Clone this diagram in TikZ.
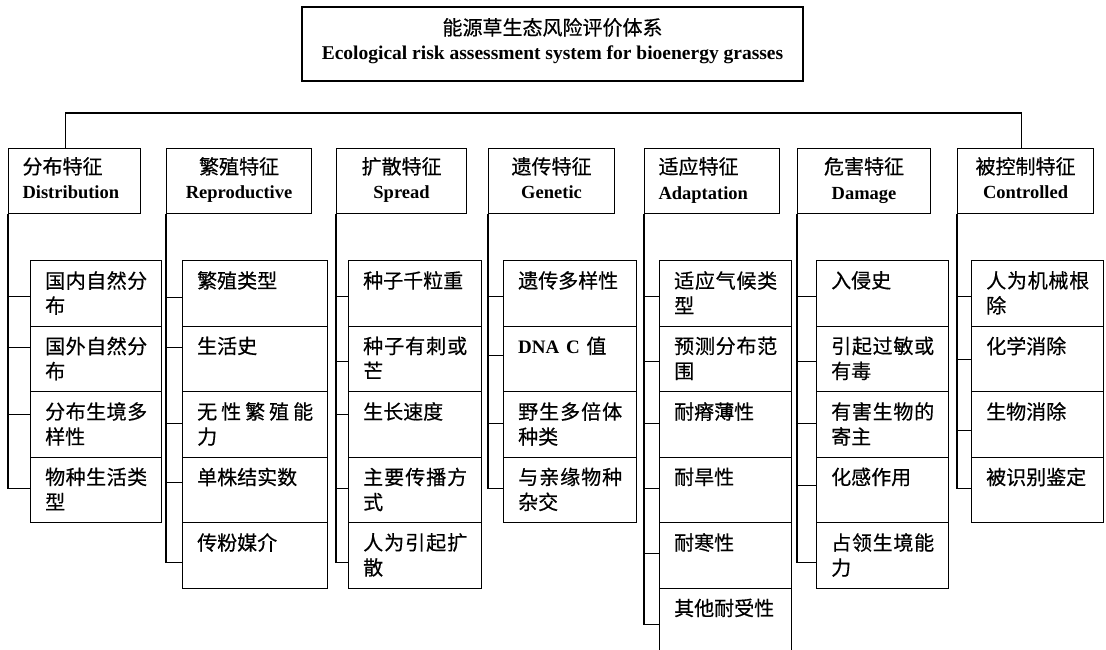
\documentclass[tikz,border=0pt]{standalone}
\usepackage{fontspec}
\setmainfont{Liberation Serif}
\newfontfamily\cjk[FakeBold=0.5]{Noto Sans CJK SC}
\setlength\parindent{0pt}
\newcommand\zh[1]{{\cjk\fontsize{20}{25}\selectfont #1}}
\newcommand\J[1]{\leavevmode\hbox to\hsize{\Jloop#1\Jend}}
\def\Jloop#1#2\Jend{#1\if\relax\detokenize{#2}\relax\else\hfil\Jloop#2\Jend\fi}
\tikzset{
  box/.style={draw, line width=1.1pt, inner sep=0pt},
  catbox/.style={box, minimum height=65pt, inner xsep=14pt, inner ysep=0pt, text depth=31pt, font=\fontsize{18.5}{25}\selectfont, anchor=north west},
  subbox/.style={box, minimum height=65.5pt, anchor=north west},
  subtext/.style={inner sep=0pt, anchor=north west, align=left, font=\cjk\fontsize{20}{25}\selectfont},
  link/.style={line width=1.1pt},
}
\newcommand\cat[5]{%
  \pgfmathsetmacro\tw{#3-28}%
  \node[catbox, minimum width=#3pt, text width=\tw pt, align=#4] (#1) at (#2,148) {#5};}
\newcommand\sub[5]{%
  \pgfmathsetmacro\subtop{260+65.5*#3}%
  \pgfmathsetmacro\tw{#4-29}%
  \node[subbox, minimum width=#4pt] (#1) at (#2,\subtop) {};
  \node[subtext, text width=\tw pt] (#1t) at ([xshift=15pt,yshift=-11pt]#1.north west) {#5};}
\newcommand\lnk[3]{\draw[link] (#1.south west) |- ([yshift=#3pt]#2.west);}
\begin{document}
\begin{tikzpicture}[x=1pt,y=-1pt]
\useasboundingbox (0,0) rectangle (1106,650);
% title
\node[box, minimum width=501pt, minimum height=74pt, align=center, text depth=10pt,
      font=\fontsize{19.5}{25}\selectfont] (root) at (552.5,44)
  {\zh{能源草生态风险评价体系}\\\textbf{Ecological risk assessment system for bioenergy grasses}};
% categories
\cat{c1}{8}{132}{left}{\zh{分布特征}\\\textbf{Distribution}}
\cat{c2}{166}{145}{center}{\zh{繁殖特征}\\\textbf{Reproductive}}
\cat{c3}{336}{130}{center}{\zh{扩散特征}\\\textbf{Spread}}
\cat{c4}{488}{126}{center}{\zh{遗传特征}\\\textbf{Genetic}}
\cat{c5}{644}{135}{left}{\zh{适应特征}\\\textbf{Adaptation}}
\cat{c6}{797}{133}{center}{\zh{危害特征}\\\textbf{Damage}}
\cat{c7}{957}{136}{center}{\zh{被控制特征}\\\textbf{Controlled}}
% bus
\draw[link] ([xshift=-9pt]c1.north) -- ++(0,-35) -| ([xshift=-4pt]c7.north);
% column 1
\sub{s11}{30}{0}{131}{\J{国内自然分}\\布}
\sub{s12}{30}{1}{131}{\J{国外自然分}\\布}
\sub{s13}{30}{2}{131}{\J{分布生境多}\\样性}
\sub{s14}{30}{3}{131}{\J{物种生活类}\\型}
\lnk{c1}{s11}{-3}\lnk{c1}{s12}{11}\lnk{c1}{s13}{10}\lnk{c1}{s14}{1}
% column 2
\sub{s21}{182}{0}{145}{繁殖类型}
\sub{s22}{182}{1}{145}{生活史}
\sub{s23}{182}{2}{145}{\J{无性繁殖能}\\力}
\sub{s24}{182}{3}{145}{单株结实数}
\sub{s25}{182}{4}{145}{传粉媒介}
\lnk{c2}{s21}{-4}\lnk{c2}{s22}{11}\lnk{c2}{s23}{1}\lnk{c2}{s24}{7}\lnk{c2}{s25}{-7}
% column 3
\sub{s31}{348}{0}{133}{种子千粒重}
\sub{s32}{348}{1}{133}{\J{种子有刺或}\\芒}
\sub{s33}{348}{2}{133}{生长速度}
\sub{s34}{348}{3}{133}{\J{主要传播方}\\式}
\sub{s35}{348}{4}{133}{\J{人为引起扩}\\散}
\lnk{c3}{s31}{-3}\lnk{c3}{s32}{-3}\lnk{c3}{s33}{10}\lnk{c3}{s34}{1}\lnk{c3}{s35}{-7}
% column 4
\sub{s41}{503}{0}{133}{遗传多样性}
\sub{s42}{503}{1}{133}{{\rmfamily\bfseries\fontsize{19}{25}\selectfont DNA C} 值}
\sub{s43}{503}{2}{133}{\J{野生多倍体}\\种类}
\sub{s44}{503}{3}{133}{\J{与亲缘物种}\\杂交}
\lnk{c4}{s41}{-3}\lnk{c4}{s42}{3}\lnk{c4}{s43}{1}\lnk{c4}{s44}{1}
% column 5
\sub{s51}{659}{0}{132}{\J{适应气候类}\\型}
\sub{s52}{659}{1}{132}{\J{预测分布范}\\围}
\sub{s53}{659}{2}{132}{耐瘠薄性}
\sub{s54}{659}{3}{132}{耐旱性}
\sub{s55}{659}{4}{132}{耐寒性}
\sub{s56}{659}{5}{132}{其他耐受性}
\lnk{c5}{s51}{-3}\lnk{c5}{s52}{-3}\lnk{c5}{s53}{1}\lnk{c5}{s54}{1}\lnk{c5}{s55}{2}\lnk{c5}{s56}{-4}
% column 6
\sub{s61}{816}{0}{132}{入侵史}
\sub{s62}{816}{1}{132}{\J{引起过敏或}\\有毒}
\sub{s63}{816}{2}{132}{\J{有害生物的}\\寄主}
\sub{s64}{816}{3}{132}{化感作用}
\sub{s65}{816}{4}{132}{\J{占领生境能}\\力}
\lnk{c6}{s61}{-3}\lnk{c6}{s62}{-3}\lnk{c6}{s63}{1}\lnk{c6}{s64}{4}\lnk{c6}{s65}{-7}
% column 7
\sub{s71}{971}{0}{132}{\J{人为机械根}\\除}
\sub{s72}{971}{1}{132}{化学消除}
\sub{s73}{971}{2}{132}{生物消除}
\sub{s74}{971}{3}{132}{被识别鉴定}
\lnk{c7}{s71}{-3}\lnk{c7}{s72}{-1}\lnk{c7}{s73}{-6}\lnk{c7}{s74}{1}
\end{tikzpicture}
\end{document}
